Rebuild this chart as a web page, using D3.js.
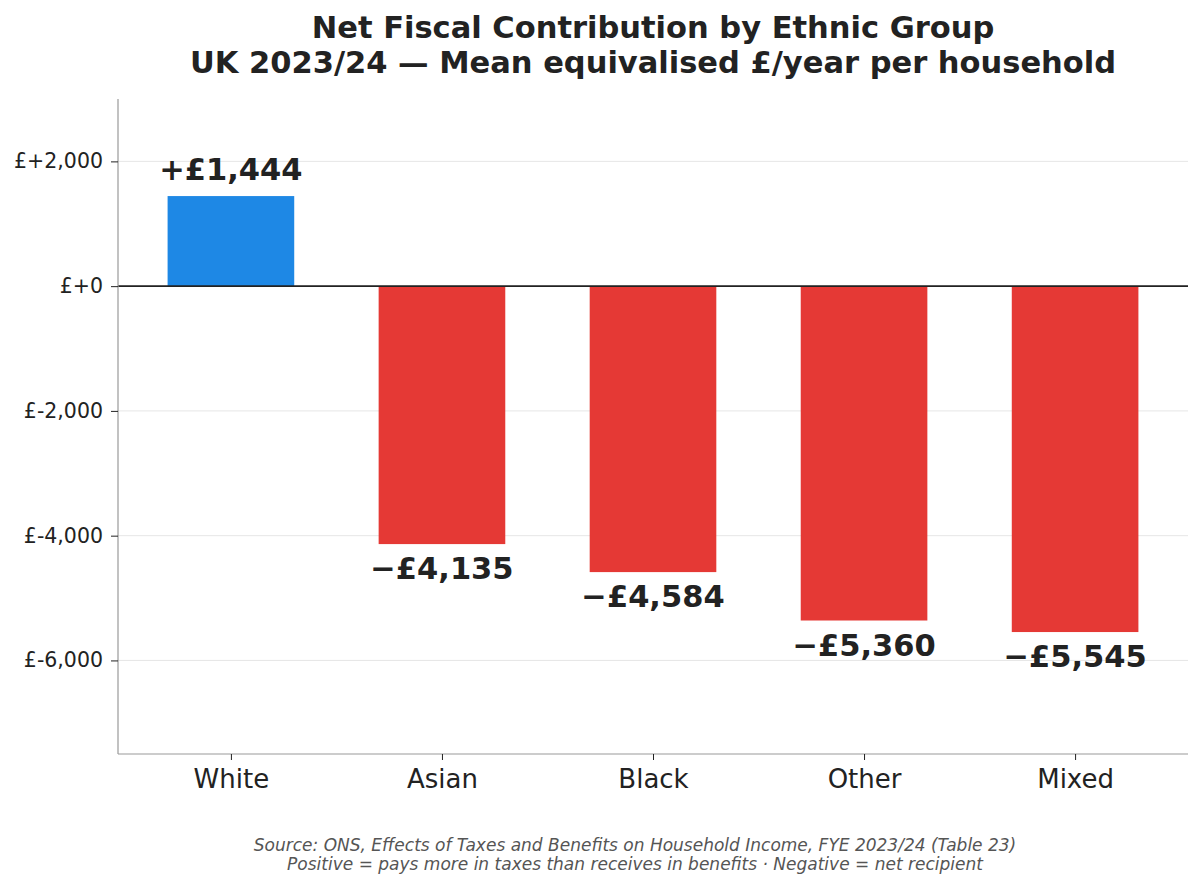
<!DOCTYPE html>
<html>
<head>
<meta charset="utf-8">
<script src="https://cdn.jsdelivr.net/npm/d3@7"></script>
<style>
  body { margin: 0; background: #fff; }
  text { font-family: "DejaVu Sans", sans-serif; }
</style>
</head>
<body>
<div class="canvas"></div>
<script>
const groups = ['White', 'Asian', 'Black', 'Other', 'Mixed']
const netContribution = [1444, -4135, -4584, -5360, -5545]
const yTicks = [-6000, -4000, -2000, 0, 2000]

const width = 1200
const height = 888
const margin = { top: 99, right: 12, bottom: 134, left: 118 }
const graphWidth = width - margin.left - margin.right
const graphHeight = height - margin.top - margin.bottom

const svg = d3.select('.canvas').append('svg')
  .attr('width', width)
  .attr('height', height)

const graph = svg.append('g')
  .attr('transform', `translate(${margin.left}, ${margin.top})`)

const x = d3.scalePoint()
  .domain(groups)
  .range([0, graphWidth])
  .padding(0.535)

const barWidth = x.step() * 0.6

const y = d3.scaleLinear()
  .domain([-7500, 3000])
  .range([graphHeight, 0])

// grid
graph.append('g')
  .selectAll('line')
  .data(yTicks)
  .enter().append('line')
  .attr('x1', 0)
  .attr('x2', graphWidth)
  .attr('y1', d => y(d))
  .attr('y2', d => y(d))
  .attr('stroke', '#e6e6e6')
  .attr('stroke-width', 1)

// bars
graph.selectAll('rect.bar')
  .data(netContribution)
  .enter().append('rect')
  .attr('class', 'bar')
  .attr('x', (d, i) => x(groups[i]) - barWidth / 2)
  .attr('width', barWidth)
  .attr('y', d => y(Math.max(d, 0)))
  .attr('height', d => Math.abs(y(d) - y(0)))
  .attr('fill', d => d >= 0 ? '#1e88e5' : '#e53935')

// zero line
graph.append('line')
  .attr('x1', 0)
  .attr('x2', graphWidth)
  .attr('y1', y(0))
  .attr('y2', y(0))
  .attr('stroke', '#222')
  .attr('stroke-width', 1.8)

// value labels
const fmt = d3.format(',')
graph.selectAll('text.value')
  .data(netContribution)
  .enter().append('text')
  .attr('class', 'value')
  .attr('x', (d, i) => x(groups[i]))
  .attr('y', d => d >= 0 ? y(d) - 16 : y(d) + 35)
  .attr('text-anchor', 'middle')
  .attr('font-size', 30.5)
  .attr('font-weight', 'bold')
  .attr('fill', '#222')
  .text(d => (d >= 0 ? '+£' : '\u2212£') + fmt(Math.abs(d)))

// axes
const yAxis = d3.axisLeft(y)
  .tickValues(yTicks)
  .tickSize(7)
  .tickPadding(8)
  .tickFormat(d => '£' + (d >= 0 ? '+' : '-') + fmt(Math.abs(d)))

const xAxis = d3.axisBottom(x)
  .tickSize(6)
  .tickPadding(9.5)

const yAxisGroup = graph.append('g').call(yAxis)
const xAxisGroup = graph.append('g')
  .attr('transform', `translate(0,${graphHeight})`)
  .call(xAxis)

yAxisGroup.select('.domain').attr('stroke', '#999').attr('stroke-width', 1.2)
  .attr('d', `M0,0V${graphHeight}`)
yAxisGroup.selectAll('.tick line').attr('stroke', '#222')
yAxisGroup.selectAll('.tick text')
  .attr('font-size', 20.5)
  .attr('fill', '#222')
  .style('font-family', '"DejaVu Sans", sans-serif')

xAxisGroup.select('.domain').attr('stroke', '#999').attr('stroke-width', 1.2)
  .attr('d', `M0,0H${graphWidth}`)
xAxisGroup.selectAll('.tick line').attr('stroke', '#222')
xAxisGroup.selectAll('.tick text')
  .attr('font-size', 26)
  .attr('fill', '#222')
  .style('font-family', '"DejaVu Sans", sans-serif')

// title
const cx = margin.left + graphWidth / 2
const title = svg.append('text')
  .attr('text-anchor', 'middle')
  .attr('font-size', 30.5)
  .attr('font-weight', 'bold')
  .attr('fill', '#222')
title.append('tspan').attr('x', cx).attr('y', 38)
  .text('Net Fiscal Contribution by Ethnic Group')
title.append('tspan').attr('x', cx).attr('y', 73)
  .text('UK 2023/24 \u2014 Mean equivalised £/year per household')

// footer
const foot = svg.append('text')
  .attr('text-anchor', 'middle')
  .attr('font-size', 17)
  .attr('font-style', 'italic')
  .attr('fill', '#555')
foot.append('tspan').attr('x', 635).attr('y', 851)
  .text('Source: ONS, Effects of Taxes and Benefits on Household Income, FYE 2023/24 (Table 23)')
foot.append('tspan').attr('x', 635).attr('y', 870)
  .text('Positive = pays more in taxes than receives in benefits \u00b7 Negative = net recipient')
</script>
</body>
</html>
